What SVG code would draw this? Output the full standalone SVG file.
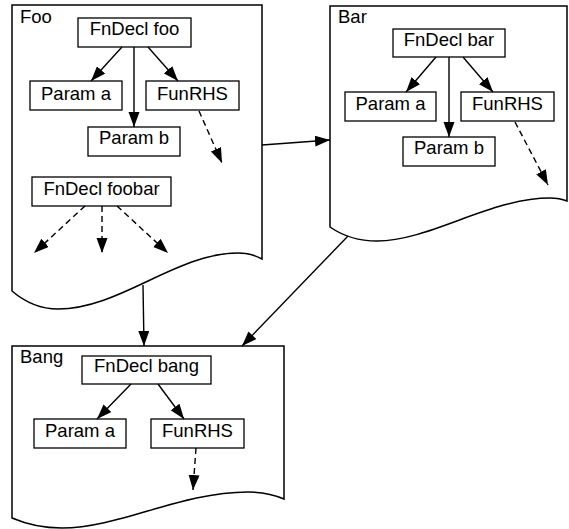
<svg xmlns="http://www.w3.org/2000/svg" width="569" height="529" viewBox="0 0 569 529">
<style>
.doc{fill:#fff;stroke:#000;stroke-width:1.5}
.box{fill:#fff;stroke:#000;stroke-width:1.3}
text{font-family:"Liberation Sans",Arial,Helvetica,sans-serif;font-size:18.5px;fill:#000}
.c{text-anchor:middle}
.e{fill:none;stroke:#000;stroke-width:1.4}
.d{stroke-dasharray:6,4}
</style>
<defs>
<marker id="ah" markerUnits="userSpaceOnUse" markerWidth="16" markerHeight="12" refX="15" refY="5.5" orient="auto">
<path d="M0,0 L15,5.5 L0,11 Z" fill="#000"/>
</marker>
</defs>
<rect width="569" height="529" fill="#fff"/>
<g id="foo">
<path class="doc" d="M12,5 H262 V259 C255,255 248,253 238,253 C176,253 120,309 58,309 C40,309 26,303 12,291 Z"/>
<text x="20" y="23">Foo</text>
</g>
<g id="bar">
<path class="doc" d="M330,6 H567 V201 C562,199 556,198 550,198 C490,198 430,241 377,241 C360,241 343,236 330,227 Z"/>
<text x="338" y="23">Bar</text>
</g>
<g id="bang">
<path class="doc" d="M12,346 H284 V499 C275,495 262,492 248,492 C180,492 120,528 62,528 C42,528 26,524 12,518 Z"/>
<text x="20" y="363">Bang</text>
</g>
<g id="foo-fndecl"><rect class="box" x="78" y="18" width="113" height="29"/><text class="c" x="134.5" y="35">FnDecl foo</text></g>
<g id="foo-parama"><rect class="box" x="30" y="81" width="92" height="29"/><text class="c" x="76" y="100">Param a</text></g>
<g id="foo-funrhs"><rect class="box" x="146" y="81" width="93" height="29"/><text class="c" x="192.5" y="100">FunRHS</text></g>
<g id="foo-paramb"><rect class="box" x="88" y="127" width="92" height="29"/><text class="c" x="134" y="144">Param b</text></g>
<g id="foo-foobar"><rect class="box" x="32" y="177" width="139" height="29"/><text class="c" x="101.5" y="195">FnDecl foobar</text></g>
<g id="bar-fndecl"><rect class="box" x="393" y="29" width="112" height="28"/><text class="c" x="449" y="46">FnDecl bar</text></g>
<g id="bar-parama"><rect class="box" x="345" y="92" width="91" height="29"/><text class="c" x="390.5" y="110">Param a</text></g>
<g id="bar-funrhs"><rect class="box" x="461" y="92" width="93" height="29"/><text class="c" x="507.5" y="110">FunRHS</text></g>
<g id="bar-paramb"><rect class="box" x="403" y="137" width="92" height="29"/><text class="c" x="449" y="154">Param b</text></g>
<g id="bang-fndecl"><rect class="box" x="82" y="356" width="129" height="28"/><text class="c" x="146.5" y="372">FnDecl bang</text></g>
<g id="bang-parama"><rect class="box" x="34" y="419" width="92" height="29"/><text class="c" x="80" y="437">Param a</text></g>
<g id="bang-funrhs"><rect class="box" x="151" y="419" width="93" height="29"/><text class="c" x="197.5" y="437">FunRHS</text></g>
<g id="connectors" marker-end="url(#ah)">
<line class="e" x1="122" y1="47" x2="91" y2="81" marker-end="url(#ah)"/>
<line class="e" x1="134" y1="47" x2="134" y2="127" marker-end="url(#ah)"/>
<line class="e" x1="148" y1="47" x2="178" y2="81" marker-end="url(#ah)"/>
<line class="e d" x1="199" y1="111" x2="222" y2="163" marker-end="url(#ah)"/>
<line class="e d" x1="85" y1="206" x2="34" y2="253" marker-end="url(#ah)"/>
<line class="e d" x1="102" y1="206" x2="102" y2="253" marker-end="url(#ah)"/>
<line class="e d" x1="117" y1="206" x2="168" y2="253" marker-end="url(#ah)"/>
<line class="e" x1="436" y1="57" x2="406" y2="92" marker-end="url(#ah)"/>
<line class="e" x1="449" y1="57" x2="449" y2="137" marker-end="url(#ah)"/>
<line class="e" x1="463" y1="57" x2="493" y2="92" marker-end="url(#ah)"/>
<line class="e d" x1="515" y1="122" x2="548" y2="185" marker-end="url(#ah)"/>
<line class="e" x1="131" y1="384" x2="97" y2="419" marker-end="url(#ah)"/>
<line class="e" x1="158" y1="384" x2="184" y2="419" marker-end="url(#ah)"/>
<line class="e d" x1="196" y1="448" x2="193" y2="490" marker-end="url(#ah)"/>
<line class="e" x1="262" y1="145" x2="330" y2="140" marker-end="url(#ah)"/>
<line class="e" x1="143" y1="285" x2="144" y2="346" marker-end="url(#ah)"/>
<line class="e" x1="348" y1="236" x2="242" y2="346" marker-end="url(#ah)"/>
</g>
</svg>
